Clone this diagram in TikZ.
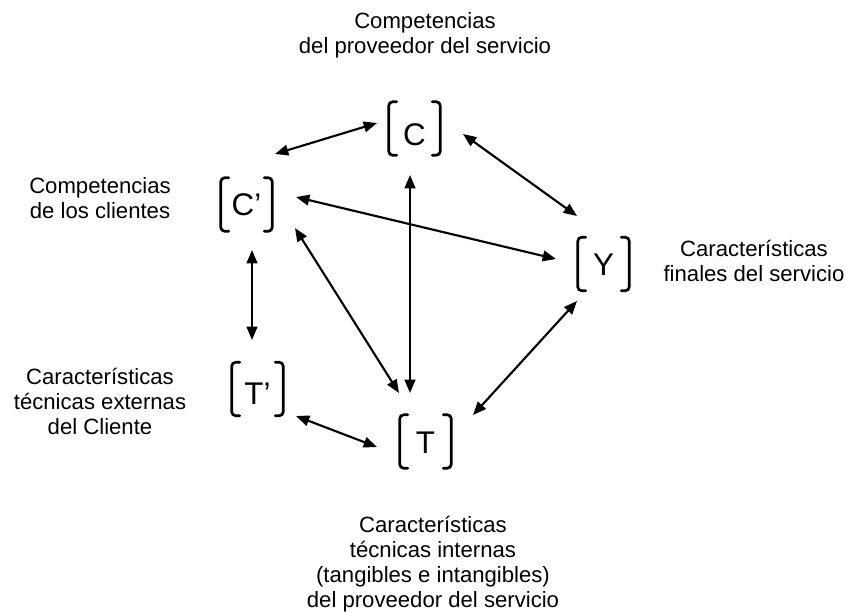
\documentclass[tikz,border=0pt]{standalone}
\usepackage{fontspec}
\setmainfont{Liberation Sans}
\usetikzlibrary{arrows.meta}
\tikzset{
  brkline/.style={line width=2pt, rounded corners=3pt, line cap=round},
  brk/.style={minimum width=38.25pt, minimum height=39.75pt, inner sep=0pt,
    text depth=0pt, font=\fontsize{23.5}{27}\selectfont,
    append after command={
      \pgfextra{\begin{pgfinterruptpath}
        \draw[brkline] ([xshift=6pt]\tikzlastnode.north west) -| (\tikzlastnode.south west) -- ([xshift=6pt]\tikzlastnode.south west);
        \draw[brkline] ([xshift=-6pt]\tikzlastnode.north east) -| (\tikzlastnode.south east) -- ([xshift=-6pt]\tikzlastnode.south east);
      \end{pgfinterruptpath}}
    }},
  lbl/.style={align=center, anchor=base, inner sep=0pt, font=\fontsize{16.6}{18.75}\selectfont},
  arr/.style={line width=1.6pt, {Triangle[length=10pt,width=8pt]}-{Triangle[length=10pt,width=8pt]}}
}
\begin{document}
\begin{tikzpicture}[x=0.75pt, y=-0.75pt]
\path[use as bounding box] (0,0) rectangle (846,612);
% nodes
\node[brk, text height=25.5pt] (C)  at (414.5,128.5) {C};
\node[brk, text height=16.5pt] (Cp) at (246.5,204.5) {C’};
\node[brk, text height=17pt]   (Y)  at (603.5,264)   {Y};
\node[brk, text height=22.5pt] (Tp) at (257.5,389)   {T’};
\node[brk, text height=18pt]   (T)  at (425.5,441.5) {T};
% labels (base = last line's baseline)
\node[lbl] (lC)  at (425,53)  {Competencias\\del proveedor del servicio};
\node[lbl] (lCp) at (100,218) {Competencias\\de los clientes};
\node[lbl] (lY)  at (754,281) {Características\\finales del servicio};
\node[lbl] (lTp) at (100,434) {Características\\técnicas externas\\del Cliente};
\node[lbl] (lT)  at (433,607) {Características\\técnicas internas\\(tangibles e intangibles)\\del proveedor del servicio};
% connectors
\draw[arr] ([shift={(28.5,-50.5)}]Cp.center) -- ([shift={(-37.5,-5.5)}]C.center);
\draw[arr] ([shift={(48.5,5.5)}]C.center) -- ([shift={(-26.5,-48)}]Y.center);
\draw[arr] ([shift={(49.5,-7.5)}]Cp.center) -- ([shift={(-47.5,-5)}]Y.center);
\draw[arr] ([shift={(-4.5,46.5)}]C.center) -- ([shift={(-15.5,-48.5)}]T.center);
\draw[arr] ([shift={(48.5,23.5)}]Cp.center) -- ([shift={(-26.5,-48.5)}]T.center);
\draw[arr] ([shift={(-26.5,37)}]Y.center) -- ([shift={(47.5,-26.5)}]T.center);
\draw[arr] ([shift={(5.5,45.5)}]Cp.center) -- ([shift={(-5.5,-49)}]Tp.center);
\draw[arr] ([shift={(38.5,27)}]Tp.center) -- ([shift={(-48.5,5.5)}]T.center);
\end{tikzpicture}
\end{document}
